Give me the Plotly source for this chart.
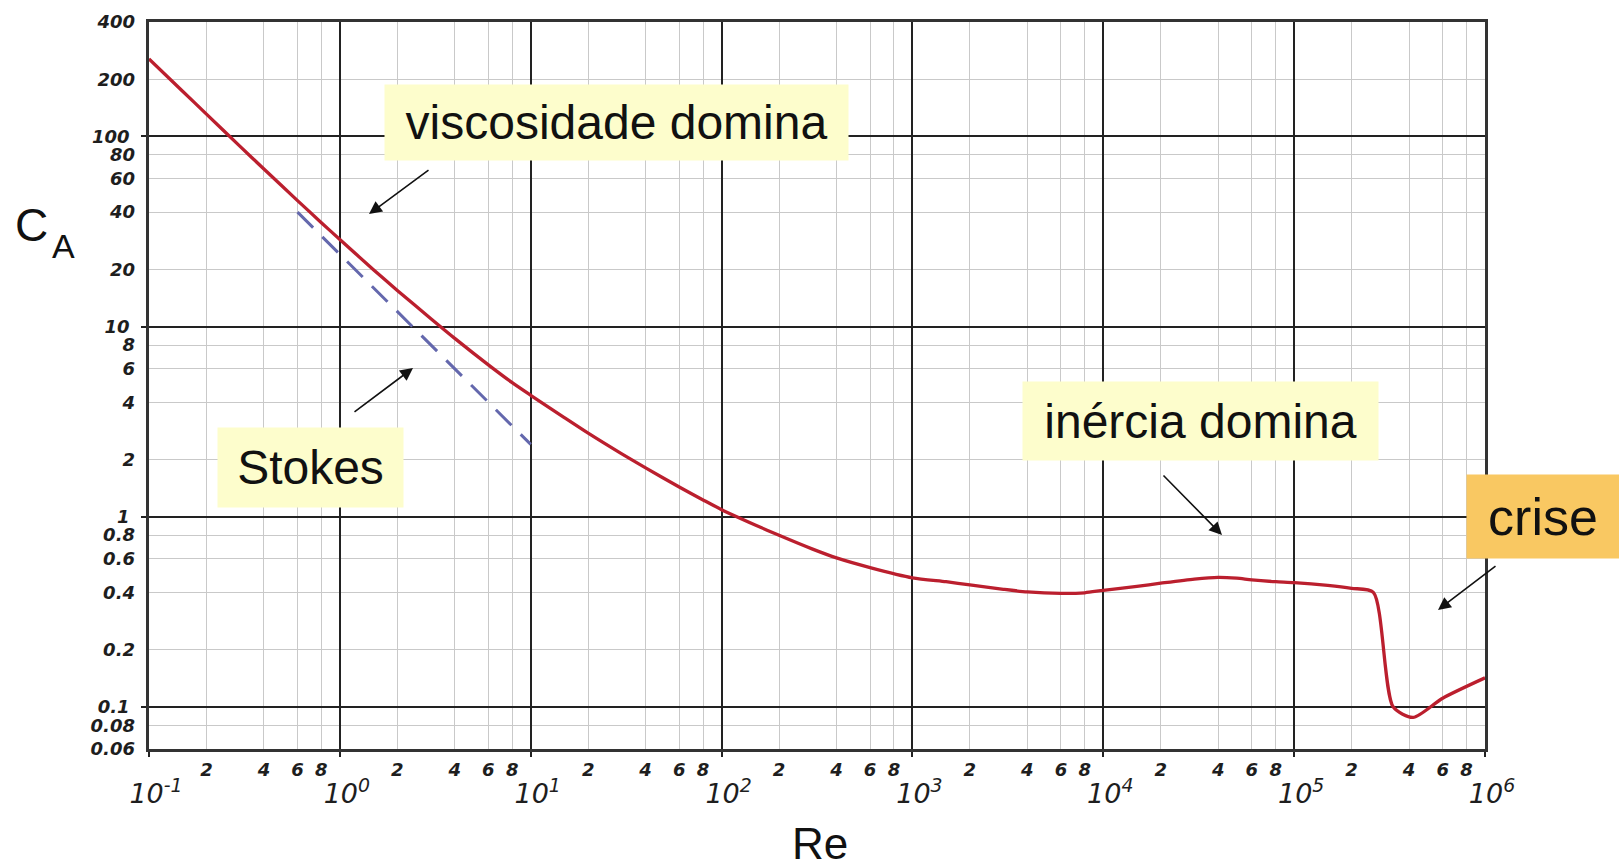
import math
import plotly.graph_objects as go

# ---------------- data ----------------
re_curve = [0.1, 0.15, 0.2, 0.3, 0.4, 0.6, 0.8, 1, 1.5, 2, 3, 4, 6, 8, 10, 15, 20, 30, 40, 60, 80,
            100, 150, 200, 300, 400, 600, 1000, 1500, 2000, 3000, 4000, 6000, 8000, 10000, 15000,
            20000, 30000, 40000, 50000, 60000, 80000, 100000, 150000, 200000, 260000, 330000,
            420000, 600000, 1000000]
cd_curve = [256, 173, 131, 88.7, 67.4, 46, 35.2, 28.7, 19.9, 15.5, 11.0, 8.67, 6.29, 5.07, 4.35,
            3.32, 2.75, 2.14, 1.805, 1.433, 1.225, 1.089, 0.905, 0.798, 0.675, 0.607, 0.54, 0.477,
            0.455, 0.438, 0.415, 0.402, 0.395, 0.398, 0.41, 0.43, 0.447, 0.47, 0.48, 0.475, 0.465,
            0.455, 0.45, 0.435, 0.42, 0.40, 0.10, 0.088, 0.111, 0.142]

stokes_re = [0.6, 10]
stokes_cd = [40, 2.4]

x_decades = [0.1, 1, 10, 100, 1000, 10000, 100000, 1000000]
x_decade_labels = ["10<sup>-1</sup>", "10<sup>0</sup>", "10<sup>1</sup>", "10<sup>2</sup>",
                   "10<sup>3</sup>", "10<sup>4</sup>", "10<sup>5</sup>", "10<sup>6</sup>"]
minor_mults = [2, 4, 6, 8]
x_minor = [m * d for d in x_decades[:-1] for m in minor_mults]
x_minor_labels = [str(m) for d in x_decades[:-1] for m in minor_mults]

y_decades = [0.1, 1, 10, 100]
y_decade_labels = ["0.1", "1", "10", "100"]
y_other = [0.06, 0.08, 0.2, 0.4, 0.6, 0.8, 2, 4, 6, 8, 20, 40, 60, 80, 200, 400]
y_other_labels = ["0.06", "0.08", "0.2", "0.4", "0.6", "0.8", "2", "4", "6", "8",
                  "20", "40", "60", "80", "200", "400"]
y_minor_grid = [0.08, 0.2, 0.4, 0.6, 0.8, 2, 4, 6, 8, 20, 40, 60, 80, 200]

x_range = [math.log10(0.1), math.log10(1e6)]
y_range = [math.log10(0.06), math.log10(400)]

# ---------------- layout geometry ----------------
W, H = 1619, 868
L, R, T, B = 149, 134, 22, 119
PW, PH = W - L - R, H - T - B


def paper(px, py):
    return (px - L) / PW, (H - B - py) / PH


DARK = "#222222"
LIGHT = "#c9c9c9"
tick_font = dict(family="DejaVu Sans", size=18, color="#1e1e1e", style="italic", weight="bold")
dec_font = dict(family="DejaVu Sans", size=27, color="#1e1e1e", style="italic")
TXT = "Liberation Sans, Arial, sans-serif"

fig = go.Figure()
fig.add_trace(go.Scatter(x=stokes_re, y=stokes_cd, mode="lines",
                         line=dict(color="#6468ad", width=3, dash="22px,13px"),
                         hoverinfo="skip", showlegend=False))
fig.add_trace(go.Scatter(x=re_curve, y=cd_curve, mode="lines",
                         line=dict(color="#bb1f2e", width=3.3, shape="spline", smoothing=0.7),
                         showlegend=False))
# carrier for the overlay axes that hold the extra tick labels
fig.add_trace(go.Scatter(x=re_curve, y=cd_curve, xaxis="x2", yaxis="y2", mode="lines",
                         line=dict(width=0, color="rgba(0,0,0,0)"), hoverinfo="skip",
                         showlegend=False))

fig.update_layout(
    width=W, height=H,
    margin=dict(l=L, r=R, t=T, b=B, pad=0),
    paper_bgcolor="white", plot_bgcolor="white",
    xaxis=dict(type="log", range=x_range, tickmode="array", tickvals=x_decades,
               ticktext=x_decade_labels, tickfont=dec_font,
               showgrid=True, gridcolor=DARK, gridwidth=1.6,
               ticks="outside", ticklen=5, tickwidth=2, tickcolor=DARK,
               ticklabelstandoff=14, ticklabelshift=7,
               minor=dict(tickmode="array", tickvals=x_minor, showgrid=True,
                          gridcolor=LIGHT, gridwidth=1.4, ticks=""),
               showline=True, mirror=True, linecolor="#333333", linewidth=2.5,
               zeroline=False, fixedrange=True),
    xaxis2=dict(type="log", range=x_range, overlaying="x", anchor="y2", side="bottom",
                tickmode="array", tickvals=x_minor, ticktext=x_minor_labels,
                tickfont=tick_font, showgrid=False, ticks="", showline=False,
                zeroline=False, ticklabelstandoff=8, fixedrange=True),
    yaxis=dict(type="log", range=y_range, tickmode="array", tickvals=y_decades,
               ticktext=y_decade_labels, tickfont=tick_font,
               showgrid=True, gridcolor=DARK, gridwidth=1.6,
               ticks="outside", ticklen=5, tickwidth=2, tickcolor=DARK,
               ticklabelstandoff=8,
               minor=dict(tickmode="array", tickvals=y_minor_grid, showgrid=True,
                          gridcolor=LIGHT, gridwidth=1.4, ticks=""),
               showline=True, mirror=True, linecolor="#333333", linewidth=2.5,
               zeroline=False, fixedrange=True),
    yaxis2=dict(type="log", range=y_range, overlaying="y", anchor="x2", side="left",
                tickmode="array", tickvals=y_other, ticktext=y_other_labels,
                tickfont=tick_font, showgrid=False, ticks="", showline=False,
                zeroline=False, ticklabelstandoff=13, fixedrange=True),
)

annotations = []


def box(text, cx, cy, w, h, size, bg):
    x, y = paper(cx, cy)
    annotations.append(dict(text=text, x=x, y=y, xref="paper", yref="paper",
                            xanchor="center", yanchor="middle", showarrow=False,
                            width=w, height=h, borderpad=0, bgcolor=bg,
                            font=dict(family=TXT, size=size, color="#111111")))


def arrow(tail, tip):
    x, y = paper(*tip)
    annotations.append(dict(text="", x=x, y=y, xref="paper", yref="paper",
                            ax=tail[0] - tip[0], ay=tail[1] - tip[1],
                            showarrow=True, arrowhead=2, arrowsize=1.6, arrowwidth=1.6,
                            arrowcolor="#111111"))


box("viscosidade domina", 616.5, 122.5, 463, 75, 48, "#fdfdcc")
box("Stokes", 310.5, 467.5, 185, 79, 48, "#fdfdcc")
box("inércia domina", 1200.5, 421, 355, 78, 48, "#fdfdcc")
box("crise", 1543, 516.5, 152, 83, 52, "#f9c862")

arrow((430, 169), (369, 214))
arrow((353, 413), (413, 368))
arrow((1162, 474), (1222, 535))
arrow((1497, 565), (1438, 610))

# axis titles
for text, cx, cy, size in [("C", 31, 225, 46), ("A", 63.5, 245.5, 34), ("Re", 820, 843, 44)]:
    x, y = paper(cx, cy)
    annotations.append(dict(text=text, x=x, y=y, xref="paper", yref="paper",
                            xanchor="center", yanchor="middle", showarrow=False,
                            font=dict(family=TXT, size=size, color="#111111")))

fig.update_layout(annotations=annotations)
fig.write_html("out.html", config={"displayModeBar": False},
               post_script="document.body.style.margin='0';document.body.style.overflow='hidden';")
